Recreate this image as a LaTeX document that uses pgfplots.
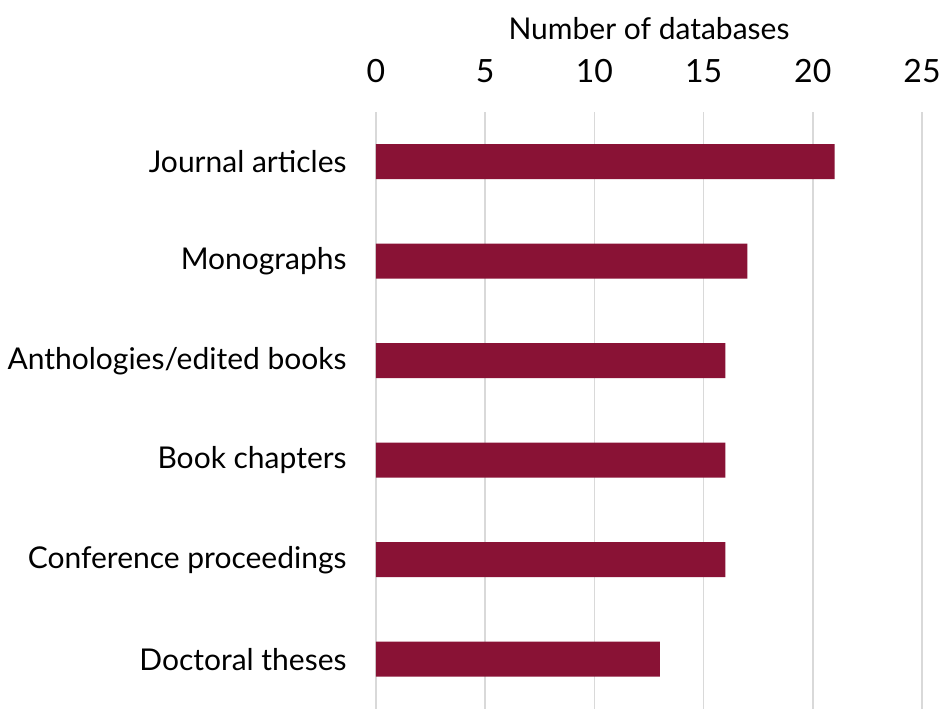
\documentclass[border=0pt]{standalone}
\usepackage{fontspec}
\setmainfont{Lato}
\usepackage{pgfplots}
\pgfplotsset{compat=1.18}
\definecolor{barc}{HTML}{891235}
\definecolor{gridc}{HTML}{D9D9D9}
\begin{document}
\fontsize{15}{18}\selectfont
\begin{tikzpicture}
\begin{axis}[
  name=ax,
  scale only axis, width=273pt, height=298.5pt,
  xbar, bar width=17.5pt,
  xmin=0, xmax=25, ymin=-0.5, ymax=5.5,
  xtick={0,5,10,15,20,25},
  ytick={0,1,2,3,4,5},
  yticklabels={Doctoral theses, Conference proceedings, Book chapters, Anthologies/edited books, Monographs, Journal articles},
  xticklabel pos=upper,
  axis line style={draw=none},
  major tick length=0pt,
  xmajorgrids, ymajorgrids=false,
  grid style={draw=gridc, line width=0.75pt},
  /pgf/number format/assume math mode=true,
  tick label style={font=\fontsize{15}{18}\selectfont},
  xticklabel style={font=\fontsize{16}{18}\selectfont, inner sep=0pt, anchor=south, yshift=14.5pt},
  yticklabel style={inner sep=0pt, anchor=east, xshift=-14.5pt},
  xlabel={Number of databases},
  xlabel style={font=\fontsize{15}{18}\selectfont, inner sep=0pt, yshift=9.5pt},
  clip=false,
]
\addplot[fill=barc, draw=none] coordinates {(13,0) (16,1) (16,2) (16,3) (17,4) (21,5)};
\end{axis}
\pgfresetboundingbox
\path (ax.south west) ++(-188pt,0pt) coordinate (bbl);
\path (ax.north east) ++(9pt,56pt) coordinate (bbr);
\path[use as bounding box] (bbl) rectangle (bbr);
\end{tikzpicture}
\end{document}
